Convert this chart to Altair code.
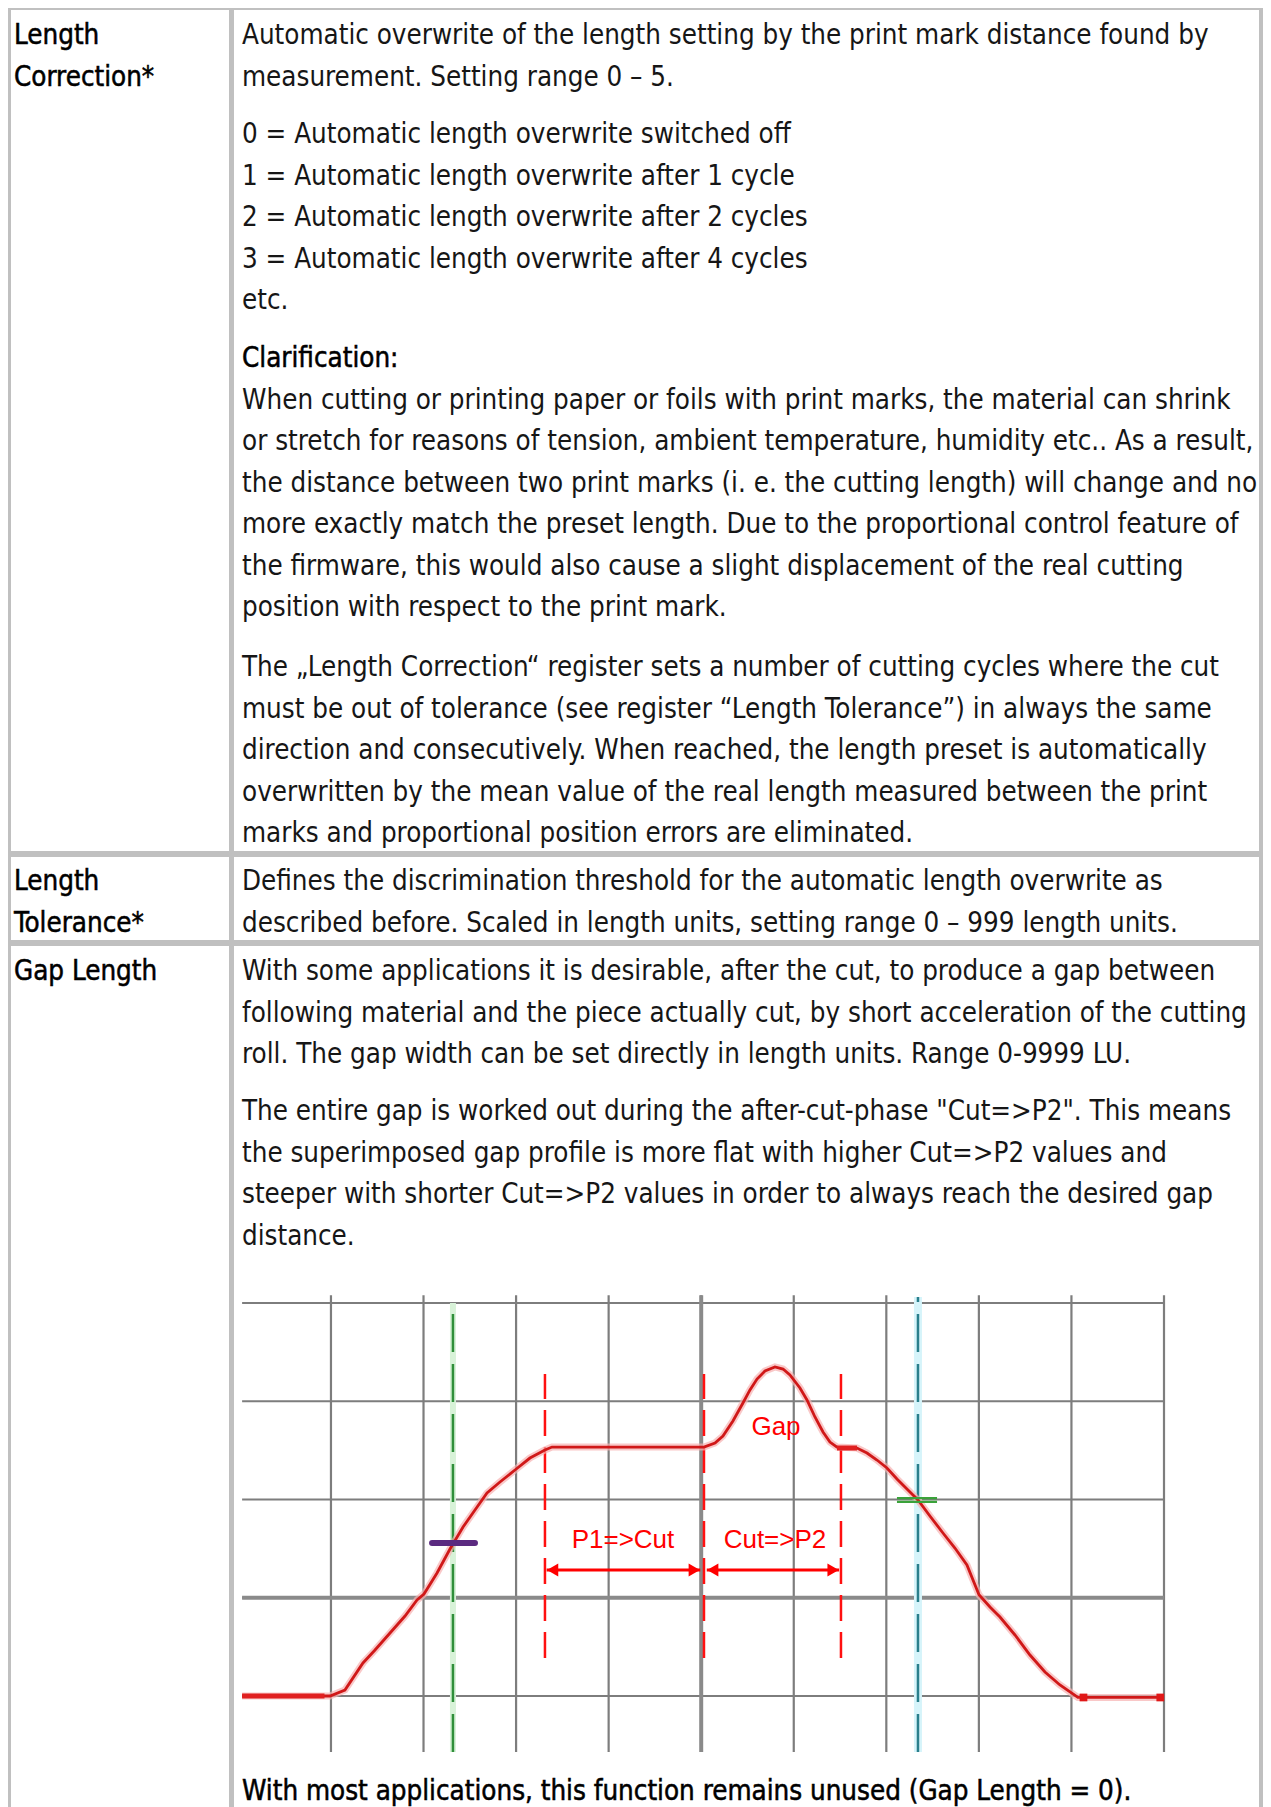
import altair as alt
import pandas as pd

# ---------------- text content ----------------
row1_label = ["Length", "Correction*"]
row2_label = ["Length", "Tolerance*"]
row3_label = ["Gap Length"]

r1_p1 = ["Automatic overwrite of the length setting by the print mark distance found by",
         "measurement. Setting range 0 \u2013 5."]
r1_p2 = ["0 = Automatic length overwrite switched off",
         "1 = Automatic length overwrite after 1 cycle",
         "2 = Automatic length overwrite after 2 cycles",
         "3 = Automatic length overwrite after 4 cycles",
         "etc."]
r1_head = "Clarification:"
r1_p3 = ["When cutting or printing paper or foils with print marks, the material can shrink",
         "or stretch for reasons of tension, ambient temperature, humidity etc.. As a result,",
         "the distance between two print marks (i. e. the cutting length) will change and no",
         "more exactly match the preset length. Due to the proportional control feature of",
         "the firmware, this would also cause a slight displacement of the real cutting",
         "position with respect to the print mark."]
r1_p4 = ["The \u201eLength Correction\u201c register sets a number of cutting cycles where the cut",
         "must be out of tolerance (see register \u201cLength Tolerance\u201d) in always the same",
         "direction and consecutively. When reached, the length preset is automatically",
         "overwritten by the mean value of the real length measured between the print",
         "marks and proportional position errors are eliminated."]
r2_p1 = ["Defines the discrimination threshold for the automatic length overwrite as",
         "described before. Scaled in length units, setting range 0 \u2013 999 length units."]
r3_p1 = ["With some applications it is desirable, after the cut, to produce a gap between",
         "following material and the piece actually cut, by short acceleration of the cutting",
         "roll. The gap width can be set directly in length units. Range 0-9999 LU."]
r3_p2 = ["The entire gap is worked out during the after-cut-phase \"Cut=>P2\". This means",
         "the superimposed gap profile is more flat with higher Cut=>P2 values and",
         "steeper with shorter Cut=>P2 values in order to always reach the desired gap",
         "distance."]
r3_last = "With most applications, this function remains unused (Gap Length = 0)."

# ---------------- diagram values (time units / speed units) ----------------
grid_t = [1, 2, 3, 4, 5, 6, 7, 8, 9, 10]
grid_v = [0, 1, 2, 3, 4]
thick_t = [5]
thick_v = [1]

curve_t = [0.04, 0.99, 1.151, 1.346, 1.476, 1.638, 1.800, 1.930, 2.005, 2.146, 2.286, 2.427,
           2.556, 2.686, 2.826, 2.988, 3.150, 3.312, 3.388, 5.030, 5.149, 5.235, 5.343, 5.451,
           5.527, 5.603, 5.689, 5.797, 5.884, 5.959, 6.067, 6.143, 6.229, 6.316, 6.391, 6.467,
           6.683, 6.791, 6.899, 7.007, 7.115, 7.234, 7.342, 7.471, 7.612, 7.741, 7.871, 8.001,
           8.120, 8.228, 8.390, 8.552, 8.714, 8.876, 9.070, 10.0]
curve_v = [0.0, 0.0, 0.061, 0.336, 0.468, 0.641, 0.814, 0.977, 1.038, 1.252, 1.496, 1.720,
           1.893, 2.066, 2.178, 2.300, 2.422, 2.504, 2.534, 2.534, 2.575, 2.646, 2.799, 2.982,
           3.115, 3.226, 3.308, 3.349, 3.328, 3.267, 3.135, 3.013, 2.840, 2.687, 2.585, 2.534,
           2.524, 2.473, 2.402, 2.321, 2.209, 2.097, 1.995, 1.832, 1.659, 1.506, 1.333, 1.030,
           0.906, 0.804, 0.621, 0.417, 0.244, 0.112, -0.015, -0.015]

phase_t = [3.312, 5.030, 6.510]          # P1, Cut, P2 (red dashed)
print_mark_t = [2.318]                   # green dashed
p2_mark_t = [7.342]                      # cyan dashed
arrow_t_start = [3.33, 5.06]
arrow_t_end = [4.99, 6.49]
arrow_v = 1.282
diag_labels = ["P1=>Cut", "Cut=>P2", "Gap"]
diag_label_t = [4.155, 5.797, 5.808]
diag_label_v = [1.588, 1.588, 2.738]

# ---------------- layout ----------------
W, H, OFF = 1255, 1799, 8
LINE = 41.5
X_LEFT, X_RIGHT = 14, 242
FONT = "DejaVu Sans Condensed, Liberation Sans Narrow, sans-serif"
FS = 27.5
BORDER = "#c0c0c0"

# diagram placement in page pixels
ORG_X, PX_T = 238.4, 92.56
ORG_Y, PX_V = 1696.0, 98.25
T_MIN, T_MAX = 0.04, 10.0
V_LO, V_HI = -0.57, 4.08


def para(lines, y0, x):
    return [{"text": s, "x": x, "y": y0 + i * LINE} for i, s in enumerate(lines)]


normal_rows = (para(r1_p1, 44, X_RIGHT) + para(r1_p2, 143, X_RIGHT) +
               para(r1_p3, 367 + LINE, X_RIGHT) + para(r1_p4, 676, X_RIGHT) +
               para(r2_p1, 890, X_RIGHT) + para(r3_p1, 980, X_RIGHT) +
               para(r3_p2, 1120, X_RIGHT))
strong_rows = (para(row1_label, 44, X_LEFT) + para(row2_label, 890, X_LEFT) +
               para(row3_label, 980, X_LEFT) + para([r1_head], 367, X_RIGHT) +
               para([r3_last], 1800, X_RIGHT))

borders = pd.DataFrame([
    {"x": 8, "x2": 1263, "y": 8, "y2": 10},
    {"x": 8, "x2": 11, "y": 8, "y2": 1807},
    {"x": 1259, "x2": 1263, "y": 8, "y2": 1807},
    {"x": 229, "x2": 234, "y": 8, "y2": 1807},
    {"x": 8, "x2": 1263, "y": 851, "y2": 857},
    {"x": 8, "x2": 1263, "y": 940, "y2": 946},
])

pxs = alt.Scale(domain=[OFF, OFF + W], nice=False, zero=False)
pys = alt.Scale(domain=[OFF + H, OFF], nice=False, zero=False)

page_borders = alt.Chart(borders).mark_rect(color=BORDER).encode(
    x=alt.X("x:Q", scale=pxs, axis=None), x2="x2:Q",
    y=alt.Y("y:Q", scale=pys, axis=None), y2="y2:Q")

text_normal = alt.Chart(pd.DataFrame(normal_rows)).mark_text(
    align="left", baseline="alphabetic", font=FONT, fontSize=FS, color="#161616").encode(
    x=alt.X("x:Q", scale=pxs, axis=None), y=alt.Y("y:Q", scale=pys, axis=None), text="text:N")

text_strong = alt.Chart(pd.DataFrame(strong_rows)).mark_text(
    align="left", baseline="alphabetic", font=FONT, fontSize=FS, color="#000000",
    stroke="#000000", strokeWidth=0.5).encode(
    x=alt.X("x:Q", scale=pxs, axis=None), y=alt.Y("y:Q", scale=pys, axis=None), text="text:N")

page = alt.layer(page_borders, text_normal, text_strong)

# ---- diagram scales (independent) ----
txs = alt.Scale(domain=[(OFF - ORG_X) / PX_T, (OFF + W - ORG_X) / PX_T], nice=False, zero=False)
vys = alt.Scale(domain=[(ORG_Y - OFF - H) / PX_V, (ORG_Y - OFF) / PX_V], nice=False, zero=False)


def TX(f):
    return alt.X(f, type="quantitative", scale=txs, axis=None)


def VY(f):
    return alt.Y(f, type="quantitative", scale=vys, axis=None)


vgrid = pd.DataFrame({"t": grid_t, "v": V_LO, "v2": V_HI})
hgrid = pd.DataFrame({"v": grid_v, "t": T_MIN, "t2": T_MAX})
vthick = pd.DataFrame({"t": thick_t, "v": V_LO, "v2": V_HI})
hthick = pd.DataFrame({"v": thick_v, "t": T_MIN, "t2": T_MAX})

g1 = alt.Chart(vgrid).mark_rule(color="#7d7d7d", strokeWidth=2.2).encode(
    x=TX("t"), y=VY("v"), y2="v2")
g2 = alt.Chart(hgrid).mark_rule(color="#7d7d7d", strokeWidth=2.2).encode(
    y=VY("v"), x=TX("t"), x2="t2")
g3 = alt.Chart(vthick).mark_rule(color="#8a8a8a", strokeWidth=4).encode(
    x=TX("t"), y=VY("v"), y2="v2")
g4 = alt.Chart(hthick).mark_rule(color="#8a8a8a", strokeWidth=4).encode(
    y=VY("v"), x=TX("t"), x2="t2")

green_halo = alt.Chart(pd.DataFrame({"t": print_mark_t, "v": V_LO, "v2": 4.0})).mark_rule(
    color="#d8f2d8", strokeWidth=6).encode(x=TX("t"), y=VY("v"), y2="v2")
green_dash = alt.Chart(pd.DataFrame({"t": print_mark_t, "v": V_LO, "v2": 4.0})).mark_rule(
    color="#2f8f3a", strokeWidth=2.5, strokeDash=[38, 12]).encode(x=TX("t"), y=VY("v"), y2="v2")
cyan_halo = alt.Chart(pd.DataFrame({"t": p2_mark_t, "v": V_LO, "v2": 4.06})).mark_rule(
    color="#d6f4fa", strokeWidth=8).encode(x=TX("t"), y=VY("v"), y2="v2")
cyan_dash = alt.Chart(pd.DataFrame({"t": p2_mark_t, "v": V_LO, "v2": 4.06})).mark_rule(
    color="#2a7f8c", strokeWidth=2.5, strokeDash=[38, 12]).encode(x=TX("t"), y=VY("v"), y2="v2")

red_dash = alt.Chart(pd.DataFrame({"t": phase_t, "v": 0.387, "v2": 3.277})).mark_rule(
    color="#ff1010", strokeWidth=2.5, strokeDash=[26, 11]).encode(x=TX("t"), y=VY("v"), y2="v2")

cdf = pd.DataFrame({"t": curve_t, "v": curve_v, "i": list(range(len(curve_t)))})
curve_halo = alt.Chart(cdf).mark_line(color="#f7b0b0", strokeWidth=7, opacity=0.7).encode(
    x=TX("t"), y=VY("v"), order="i:Q")
curve = alt.Chart(cdf).mark_line(color="#d01818", strokeWidth=2.8).encode(
    x=TX("t"), y=VY("v"), order="i:Q")

left_flat = alt.Chart(pd.DataFrame({"t": [T_MIN], "t2": [0.93], "v": [0.0]})).mark_rule(
    color="#e02020", strokeWidth=5).encode(x=TX("t"), x2="t2", y=VY("v"))
gap_flat = alt.Chart(pd.DataFrame({"t": [6.467], "t2": [6.683], "v": [2.524]})).mark_rule(
    color="#e02020", strokeWidth=5).encode(x=TX("t"), x2="t2", y=VY("v"))
end_dots = alt.Chart(pd.DataFrame({"t": [9.13, 9.96], "v": [-0.015, -0.015]})).mark_square(
    color="#e01818", size=60, opacity=1).encode(x=TX("t"), y=VY("v"))

purple = alt.Chart(pd.DataFrame({"t": [2.092], "t2": [2.556], "v": [1.557]})).mark_rule(
    color="#5b2a80", strokeWidth=6, strokeCap="round").encode(x=TX("t"), x2="t2", y=VY("v"))
green_mk = alt.Chart(pd.DataFrame({"t": [7.115, 7.115], "t2": [7.548, 7.548],
                                   "v": [2.015, 1.975]})).mark_rule(
    color="#3aa23a", strokeWidth=2.2).encode(x=TX("t"), x2="t2", y=VY("v"))

adf = pd.DataFrame({"t": arrow_t_start, "t2": arrow_t_end, "v": arrow_v})
arrows = alt.Chart(adf).mark_rule(color="#ff0000", strokeWidth=3).encode(
    x=TX("t"), x2="t2", y=VY("v"))
head_shift = 6 / PX_T
heads_l = alt.Chart(pd.DataFrame({"t": [a + head_shift for a in arrow_t_start], "v": arrow_v})).mark_point(
    shape="triangle-left", filled=True, size=170, color="#ff0000", opacity=1).encode(
    x=TX("t"), y=VY("v"))
heads_r = alt.Chart(pd.DataFrame({"t": [a - head_shift for a in arrow_t_end], "v": arrow_v})).mark_point(
    shape="triangle-right", filled=True, size=170, color="#ff0000", opacity=1).encode(
    x=TX("t"), y=VY("v"))

labels = alt.Chart(pd.DataFrame({"t": diag_label_t, "v": diag_label_v, "s": diag_labels})).mark_text(
    font="Liberation Sans, Arial, sans-serif", fontSize=26, color="#ff0000",
    align="center", baseline="middle").encode(x=TX("t"), y=VY("v"), text="s:N")

diagram = alt.layer(g1, g2, g3, g4, green_halo, green_dash, cyan_halo, cyan_dash, red_dash,
                    curve_halo, curve, left_flat, gap_flat, end_dots, purple, green_mk,
                    arrows, heads_l, heads_r, labels)

chart = alt.layer(page, diagram).resolve_scale(x="independent", y="independent").properties(
    width=W, height=H, padding=0, autosize=alt.AutoSizeParams(type="none"),
    background="#ffffff").configure_view(strokeWidth=0)

chart.save("out.html", embed_options={"renderer": "svg", "actions": False})
